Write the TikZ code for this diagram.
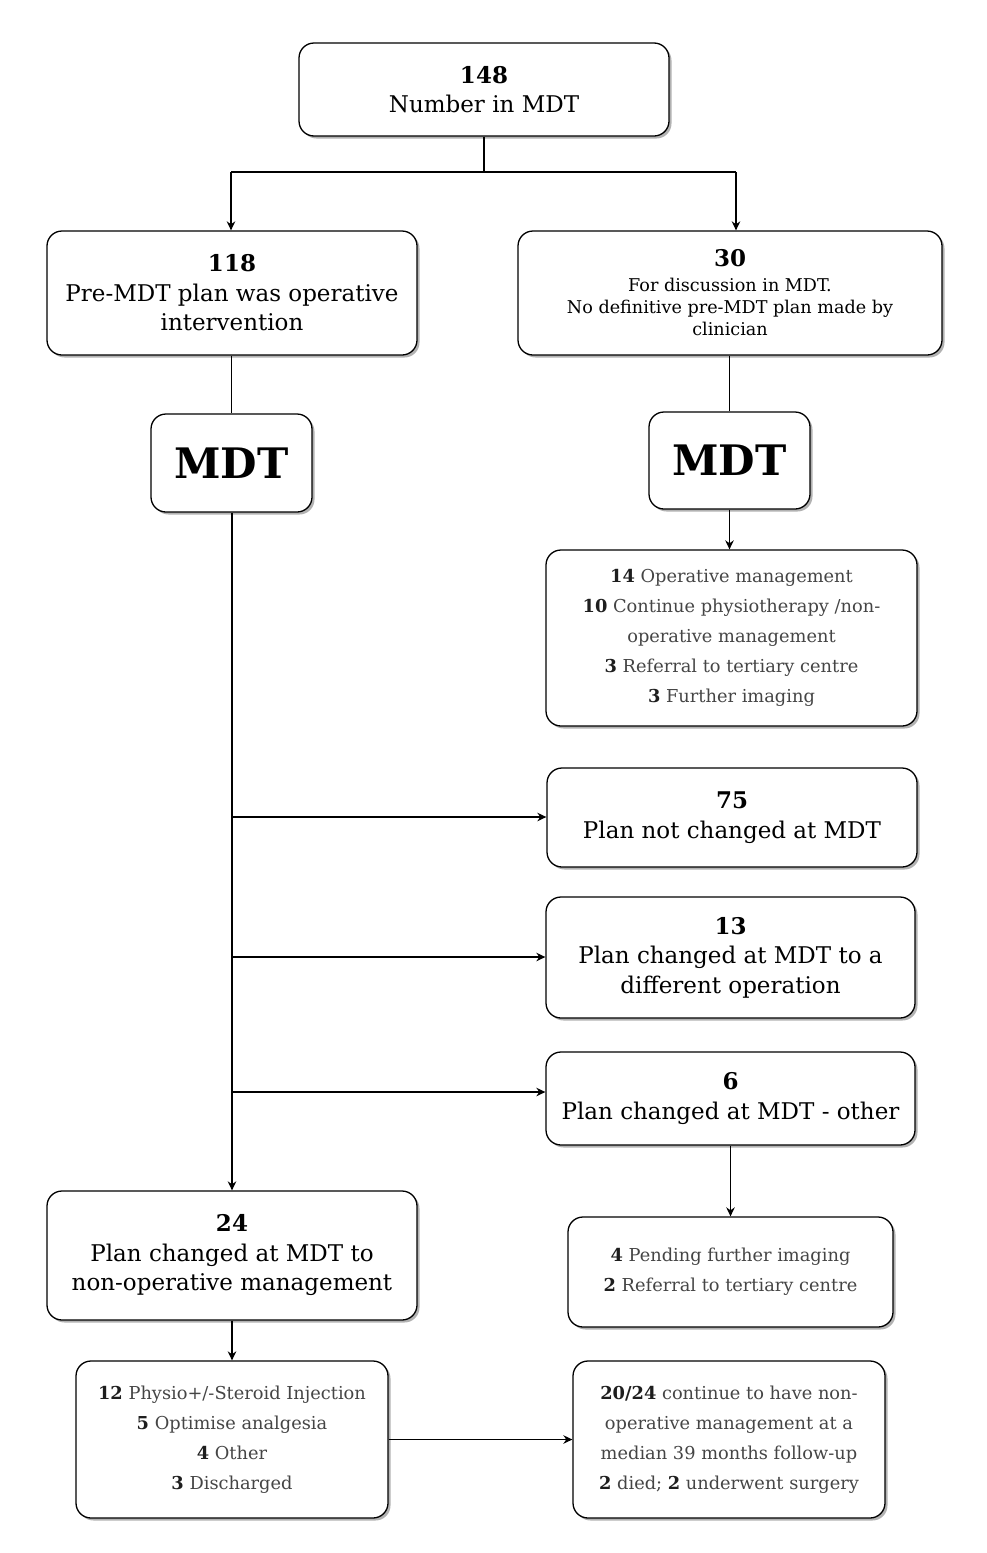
\documentclass[tikz,border=0pt]{standalone}
\usepackage{fontspec}
\setmainfont{DejaVu Serif}
\usetikzlibrary{shadows,arrows.meta}
\definecolor{listgray}{HTML}{454545}
\definecolor{numgray}{HTML}{1E1E1E}
\tikzset{
  box/.style={draw=black, line width=1.3pt, rounded corners=15pt, fill=white, align=center, inner sep=0pt,
    drop shadow={shadow xshift=2.5pt, shadow yshift=-2.5pt, opacity=0.3, fill=black}},
  bigtxt/.style={font=\fontsize{23}{29.5}\selectfont},
  smalltxt/.style={font=\fontsize{17.6}{22}\selectfont},
  listtxt/.style={font=\fontsize{17.8}{30}\selectfont, text=listgray},
  conn/.style={line width=1.4pt},
  arr/.style={line width=1.4pt, -{Stealth[length=9pt,width=8.5pt]}},
}
\newcommand{\num}[1]{\textbf{\color{numgray}#1}}
\begin{document}
\begin{tikzpicture}[x=1pt,y=-1pt]
\useasboundingbox (0,0) rectangle (986,1553);
% boxes
\node[box,bigtxt,minimum width=370pt,minimum height=93pt] (top) at (484,89.5) {\textbf{148}\\Number in MDT};
\node[box,bigtxt,minimum width=370pt,minimum height=124pt] (l1) at (232,293) {\textbf{118}\\Pre-MDT plan was operative\\intervention};
\node[box,smalltxt,minimum width=424pt,minimum height=124pt] (r1) at (730,293) {{\fontsize{23}{22}\selectfont\textbf{30}}\\[3pt]For discussion in MDT.\\No definitive pre-MDT plan made by\\clinician};
\node[box,font=\fontsize{42}{42}\selectfont\bfseries,minimum width=161pt,minimum height=98pt] (mdtl) at (231.5,463) {MDT};
\node[box,font=\fontsize{42}{42}\selectfont\bfseries,minimum width=161pt,minimum height=97pt] (mdtr) at (729.5,460.5) {MDT};
\node[box,listtxt,minimum width=371pt,minimum height=176pt] (listr) at (731.5,638) {\num{14} Operative management\\\num{10} Continue physiotherapy /non-\\operative management\\\num{3} Referral to tertiary centre\\\num{3} Further imaging};
\node[box,bigtxt,minimum width=370pt,minimum height=99pt] (n75) at (732,817.5) {\textbf{75}\\Plan not changed at MDT};
\node[box,bigtxt,minimum width=369pt,minimum height=121pt] (n13) at (730.5,957.5) {\textbf{13}\\Plan changed at MDT to a\\different operation};
\node[box,bigtxt,minimum width=369pt,minimum height=93pt] (n6) at (730.5,1098.5) {\textbf{6}\\Plan changed at MDT - other};
\node[box,bigtxt,minimum width=370pt,minimum height=129pt] (n24) at (232,1255.5) {\textbf{24}\\Plan changed at MDT to\\non-operative management};
\node[box,listtxt,minimum width=325pt,minimum height=110pt] (list6) at (730.5,1272) {\num{4} Pending further imaging\\\num{2} Referral to tertiary centre};
\node[box,listtxt,minimum width=312pt,minimum height=157pt] (list24) at (232,1439.5) {\num{12} Physio+/-Steroid Injection\\\num{5} Optimise analgesia\\\num{4} Other\\\num{3} Discharged};
\node[box,listtxt,minimum width=312pt,minimum height=157pt] (fu) at (729,1439.5) {\num{20/24} continue to have non-\\operative management at a\\median 39 months follow-up\\\num{2} died; \num{2} underwent surgery};
% connectors
\coordinate (split) at (484,172);
\coordinate (sl) at (231,172);
\coordinate (sr) at (736,172);
\draw[conn] (top.south) -- (split);
\draw[conn] (sl) -- (sr);
\draw[arr] (sl) -- (sl |- l1.north);
\draw[arr] (sr) -- (sr |- r1.north);
\draw[conn] (l1.south -| mdtl) -- (mdtl.north);
\draw[conn] (r1.south -| mdtr) -- (mdtr.north);
\draw[arr] (mdtr.south) -- (mdtr.south |- listr.north);
\draw[arr] (mdtl.south -| n24) -- (n24.north);
\coordinate (b1) at (232,817);
\coordinate (b2) at (232,957);
\coordinate (b3) at (232,1092);
\draw[arr] (b1) -- (b1 -| n75.west);
\draw[arr] (b2) -- (b2 -| n13.west);
\draw[arr] (b3) -- (b3 -| n6.west);
\draw[arr] (n6.south) -- (n6.south |- list6.north);
\draw[arr] (n24.south) -- (list24.north);
\draw[arr] (list24.east) -- (fu.west);
\end{tikzpicture}
\end{document}
